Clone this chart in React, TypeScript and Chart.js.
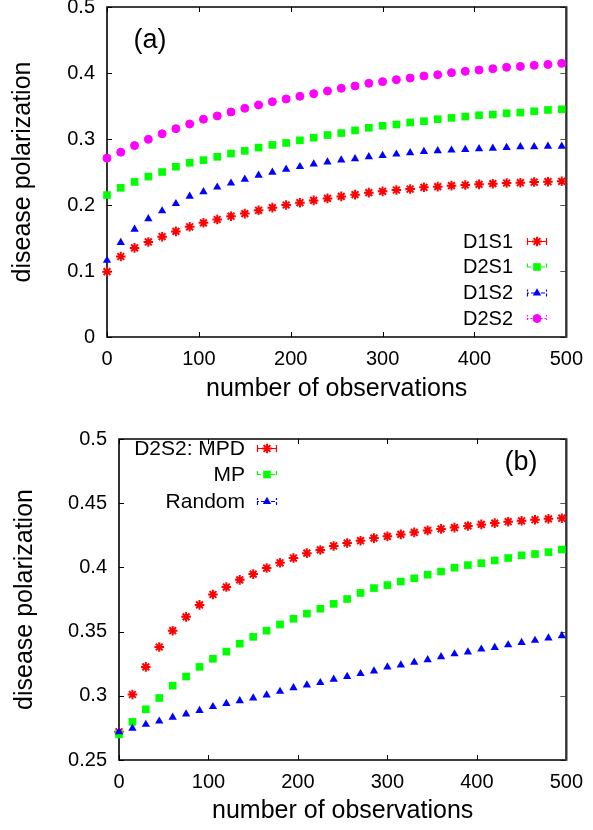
import React, { useEffect, useRef } from 'react';
import { Chart, registerables } from 'chart.js';
import { drawPoint } from 'chart.js/helpers';

Chart.register(...registerables);

const FONT = '"Liberation Sans", Arial, Helvetica, sans-serif';

// ---------- data ----------
const observations = [0, 15, 30, 45, 60, 75, 90, 105, 120, 135, 150, 165, 180, 195, 210, 225, 240, 255, 270, 285, 300, 315, 330, 345, 360, 375, 390, 405, 420, 435, 450, 465, 480, 495];

// panel (a)
const d1s1 = [0.099, 0.122, 0.135, 0.144, 0.152, 0.160, 0.167, 0.173, 0.178, 0.183, 0.187, 0.192, 0.196, 0.200, 0.2035, 0.207, 0.210, 0.213, 0.2157, 0.2187, 0.2207, 0.2227, 0.2242, 0.2268, 0.2278, 0.2293, 0.2303, 0.2313, 0.2323, 0.2333, 0.2338, 0.2348, 0.2353, 0.2359];
const d2s1 = [0.215, 0.226, 0.235, 0.243, 0.250, 0.258, 0.264, 0.268, 0.273, 0.278, 0.282, 0.287, 0.291, 0.294, 0.298, 0.302, 0.306, 0.309, 0.313, 0.317, 0.320, 0.322, 0.325, 0.327, 0.330, 0.332, 0.334, 0.336, 0.337, 0.339, 0.340, 0.342, 0.344, 0.345];
const d1s2 = [0.116, 0.143, 0.163, 0.179, 0.191, 0.202, 0.213, 0.220, 0.227, 0.233, 0.239, 0.245, 0.2495, 0.254, 0.258, 0.262, 0.265, 0.268, 0.270, 0.273, 0.275, 0.277, 0.279, 0.281, 0.282, 0.283, 0.284, 0.285, 0.286, 0.287, 0.288, 0.288, 0.289, 0.289];
const d2s2 = [0.271, 0.280, 0.290, 0.2995, 0.308, 0.3156, 0.3227, 0.330, 0.335, 0.341, 0.3465, 0.3515, 0.3565, 0.3606, 0.3647, 0.3687, 0.3727, 0.3768, 0.3803, 0.3844, 0.3869, 0.3899, 0.3924, 0.3955, 0.3974, 0.4005, 0.4025, 0.4045, 0.4065, 0.4086, 0.410, 0.4116, 0.413, 0.4146];

// panel (b)
const mpd = [0.272, 0.301, 0.3225, 0.338, 0.3507, 0.3615, 0.3708, 0.3789, 0.3847, 0.3903, 0.3948, 0.3995, 0.4036, 0.4073, 0.4111, 0.4136, 0.4167, 0.4190, 0.4208, 0.4228, 0.4242, 0.4257, 0.4273, 0.4288, 0.430, 0.431, 0.4323, 0.4335, 0.4345, 0.4356, 0.4363, 0.4371, 0.4378, 0.4383];
const mp = [0.270, 0.2797, 0.2895, 0.2983, 0.3079, 0.315, 0.3225, 0.3288, 0.3344, 0.3406, 0.3459, 0.3507, 0.3555, 0.360, 0.364, 0.3678, 0.3716, 0.3754, 0.3801, 0.3839, 0.3862, 0.389, 0.3915, 0.3943, 0.3968, 0.3998, 0.4018, 0.4033, 0.4054, 0.4073, 0.4094, 0.4104, 0.4119, 0.4139];
const random = [0.2719, 0.2747, 0.2777, 0.2802, 0.2832, 0.2857, 0.2885, 0.2915, 0.294, 0.2961, 0.2983, 0.3006, 0.3034, 0.3062, 0.3084, 0.3102, 0.3129, 0.315, 0.3172, 0.3193, 0.3223, 0.324, 0.3261, 0.328, 0.3303, 0.3326, 0.3341, 0.3363, 0.3376, 0.3396, 0.3414, 0.3431, 0.3449, 0.3467];

// ticks
const xTickValues = [0, 100, 200, 300, 400, 500];
const yTicksA = [0, 0.1, 0.2, 0.3, 0.4, 0.5];
const yTicksB = [0.25, 0.3, 0.35, 0.4, 0.45, 0.5];

const labelsA = ['D1S1', 'D2S1', 'D1S2', 'D2S2'];
const labelsB = ['D2S2: MPD', 'MP', 'Random'];

// ---------- styles ----------
const RED = '#ff0000';
const GREEN = '#00ff00';
const BLUE = '#0000ff';
const MAGENTA = '#ff00ff';

type Series = { label: string; values: number[]; color: string; style: string; radius: number; bw: number; dash: number[] };

function framePlugin() {
  return {
    id: 'frame',
    beforeDatasetsDraw(chart: any) {
      const { ctx, chartArea } = chart;
      const { left, right, top, bottom } = chartArea;
      const xs = chart.scales.x;
      const ys = chart.scales.y;
      const L = 5;
      ctx.save();
      ctx.lineWidth = 1;
      ctx.strokeStyle = '#000';
      ctx.beginPath();
      xs.ticks.forEach((t: any) => {
        const px = Math.round(xs.getPixelForValue(t.value)) + 0.5;
        ctx.moveTo(px, bottom);
        ctx.lineTo(px, bottom - L);
        ctx.moveTo(px, top);
        ctx.lineTo(px, top + L);
      });
      ys.ticks.forEach((t: any) => {
        const py = Math.round(ys.getPixelForValue(t.value)) + 0.5;
        ctx.moveTo(left, py);
        ctx.lineTo(left + L, py);
      });
      ctx.stroke();
      ctx.strokeStyle = '#555';
      ctx.beginPath();
      ys.ticks.forEach((t: any) => {
        const py = Math.round(ys.getPixelForValue(t.value)) + 0.5;
        ctx.moveTo(right, py);
        ctx.lineTo(right - L - 1, py);
      });
      ctx.stroke();
      // frame
      ctx.strokeStyle = '#000';
      ctx.lineWidth = 1.6;
      ctx.beginPath();
      ctx.moveTo(right, top);
      ctx.lineTo(left, top);
      ctx.lineTo(left, bottom);
      ctx.lineTo(right, bottom);
      ctx.stroke();
      ctx.strokeStyle = '#333';
      ctx.lineWidth = 2.4;
      ctx.beginPath();
      ctx.moveTo(right, top - 0.8);
      ctx.lineTo(right, bottom + 0.8);
      ctx.stroke();
      ctx.restore();
    },
  };
}

function legendPlugin(p: { textRight: number; sampleLeft: number; sampleLen: number; rows: number[]; label: string; labelX: number; labelY: number; fontSize: number }) {
  return {
    id: 'sketchLegend',
    afterDraw(chart: any) {
      const { ctx } = chart;
      ctx.save();
      chart.data.datasets.forEach((ds: any, i: number) => {
        const y = p.rows[i];
        ctx.fillStyle = '#000';
        ctx.font = `${p.fontSize}px ${FONT}`;
        ctx.textAlign = 'right';
        ctx.textBaseline = 'middle';
        ctx.fillText(ds.label, p.textRight, y + 1);
        const x0 = p.sampleLeft;
        const x1 = p.sampleLeft + p.sampleLen;
        ctx.strokeStyle = ds.borderColor;
        ctx.lineWidth = 1.2;
        ctx.setLineDash(ds.legendDash);
        ctx.beginPath();
        ctx.moveTo(x0, y + 0.5);
        ctx.lineTo(x1, y + 0.5);
        ctx.moveTo(x0 + 0.5, y - 3);
        ctx.lineTo(x0 + 0.5, y + 4);
        ctx.moveTo(x1 - 0.5, y - 3);
        ctx.lineTo(x1 - 0.5, y + 4);
        ctx.stroke();
        ctx.setLineDash([]);
        ctx.fillStyle = ds.pointBackgroundColor;
        ctx.strokeStyle = ds.pointBorderColor;
        ctx.lineWidth = ds.pointBorderWidth;
        drawPoint(ctx, { pointStyle: ds.pointStyle, radius: ds.pointRadius, rotation: 0, borderWidth: ds.pointBorderWidth } as any, (x0 + x1) / 2, y + 0.5);
      });
      ctx.fillStyle = '#000';
      ctx.font = `27px ${FONT}`;
      ctx.textAlign = 'center';
      ctx.textBaseline = 'middle';
      ctx.fillText(p.label, p.labelX, p.labelY);
      ctx.restore();
    },
  };
}

function fmt(v: any) {
  return String(Number(Number(v).toFixed(2)));
}

function buildConfig(p: {
  series: Series[];
  yTicks: number[];
  yMin: number;
  yMax: number;
  padTop: number;
  yWidth: number;
  xHeight: number;
  yTitlePad: number;
  xTitlePad: number;
  legend: any;
}) {
  const n = p.series.length;
  return {
    type: 'line' as const,
    data: {
      datasets: p.series.map((s, i) => ({
        label: s.label,
        data: observations.map((x, j) => ({ x, y: s.values[j] })),
        showLine: false,
        pointStyle: s.style,
        pointRadius: s.radius,
        pointBorderWidth: s.bw,
        pointBackgroundColor: s.color,
        pointBorderColor: s.color,
        borderColor: s.color,
        backgroundColor: s.color,
        order: n - i,
        clip: false,
        legendDash: s.dash,
      })),
    },
    options: {
      responsive: false,
      animation: false,
      events: [],
      layout: { padding: { top: p.padTop, right: 22, left: 0, bottom: 0 } },
      plugins: { legend: { display: false }, tooltip: { enabled: false } },
      scales: {
        x: {
          type: 'linear',
          min: 0,
          max: 500,
          afterBuildTicks: (scale: any) => {
            scale.ticks = xTickValues.map((v) => ({ value: v }));
          },
          afterFit: (scale: any) => {
            scale.height = p.xHeight;
          },
          ticks: { font: { family: FONT, size: 20 }, color: '#000', padding: 10, maxRotation: 0, callback: (v: any) => fmt(v) },
          grid: { display: false, drawTicks: false },
          border: { display: false },
          title: { display: true, text: 'number of observations', color: '#000', font: { family: FONT, size: 25 }, padding: { top: 0, bottom: p.xTitlePad } },
        },
        y: {
          type: 'linear',
          min: p.yMin,
          max: p.yMax,
          afterBuildTicks: (scale: any) => {
            scale.ticks = p.yTicks.map((v) => ({ value: v }));
          },
          afterFit: (scale: any) => {
            scale.width = p.yWidth;
          },
          ticks: { font: { family: FONT, size: 20 }, color: '#000', padding: 12, callback: (v: any) => fmt(v) },
          grid: { display: false, drawTicks: false },
          border: { display: false },
          title: { display: true, text: 'disease polarization', color: '#000', font: { family: FONT, size: 25 }, padding: { top: p.yTitlePad, bottom: 0 } },
        },
      },
    },
    plugins: [framePlugin(), legendPlugin(p.legend)],
  };
}

const seriesA: Series[] = [
  { label: labelsA[0], values: d1s1, color: RED, style: 'star', radius: 4.8, bw: 2, dash: [] },
  { label: labelsA[1], values: d2s1, color: GREEN, style: 'rect', radius: 5.4, bw: 0, dash: [4, 3] },
  { label: labelsA[2], values: d1s2, color: BLUE, style: 'triangle', radius: 4.8, bw: 0, dash: [2, 2, 4, 2] },
  { label: labelsA[3], values: d2s2, color: MAGENTA, style: 'circle', radius: 4, bw: 1, dash: [1.5, 2] },
];

const seriesB: Series[] = [
  { label: labelsB[0], values: mpd, color: RED, style: 'star', radius: 4.8, bw: 2, dash: [] },
  { label: labelsB[1], values: mp, color: GREEN, style: 'rect', radius: 5.4, bw: 0, dash: [4, 3] },
  { label: labelsB[2], values: random, color: BLUE, style: 'triangle', radius: 4.8, bw: 0, dash: [2, 2, 4, 2] },
];

// canvas A is shifted up by 20px so that the top tick label fits
const SHIFT_A = 20;

function Panel({ makeConfig, top, height }: { makeConfig: () => any; top: number; height: number }) {
  const ref = useRef<HTMLCanvasElement | null>(null);
  useEffect(() => {
    const chart = new Chart(ref.current as HTMLCanvasElement, makeConfig());
    return () => chart.destroy();
  }, []);
  return <canvas ref={ref} width={593} height={height} style={{ position: 'absolute', left: 0, top, width: 593, height, display: 'block' }} />;
}

export default function App() {
  const cfgA = () =>
    buildConfig({
      series: seriesA,
      yTicks: yTicksA,
      yMin: 0,
      yMax: 0.5,
      padTop: 7 + SHIFT_A,
      yWidth: 107,
      xHeight: 435 - (337 + SHIFT_A),
      yTitlePad: 8,
      xTitlePad: 11,
      legend: {
        textRight: 513,
        sampleLeft: 527,
        sampleLen: 20,
        rows: [241 + SHIFT_A, 266.5 + SHIFT_A, 292.5 + SHIFT_A, 318 + SHIFT_A],
        label: '(a)',
        labelX: 150,
        labelY: 41 + SHIFT_A,
        fontSize: 20,
      },
    });
  const cfgB = () =>
    buildConfig({
      series: seriesB,
      yTicks: yTicksB,
      yMin: 0.25,
      yMax: 0.5,
      padTop: 14,
      yWidth: 119,
      xHeight: 415 - (760 - 415),
      yTitlePad: 10,
      xTitlePad: 4,
      legend: {
        textRight: 245,
        sampleLeft: 257,
        sampleLen: 20,
        rows: [448 - 415, 474 - 415, 501 - 415],
        label: '(b)',
        labelX: 521,
        labelY: 463 - 415,
        fontSize: 21,
      },
    });
  return (
    <div style={{ position: 'fixed', left: 0, top: 0, width: 593, height: 830, overflow: 'hidden', background: '#fff' }}>
      <Panel makeConfig={cfgA} top={-SHIFT_A} height={435} />
      <Panel makeConfig={cfgB} top={415} height={415} />
    </div>
  );
}
